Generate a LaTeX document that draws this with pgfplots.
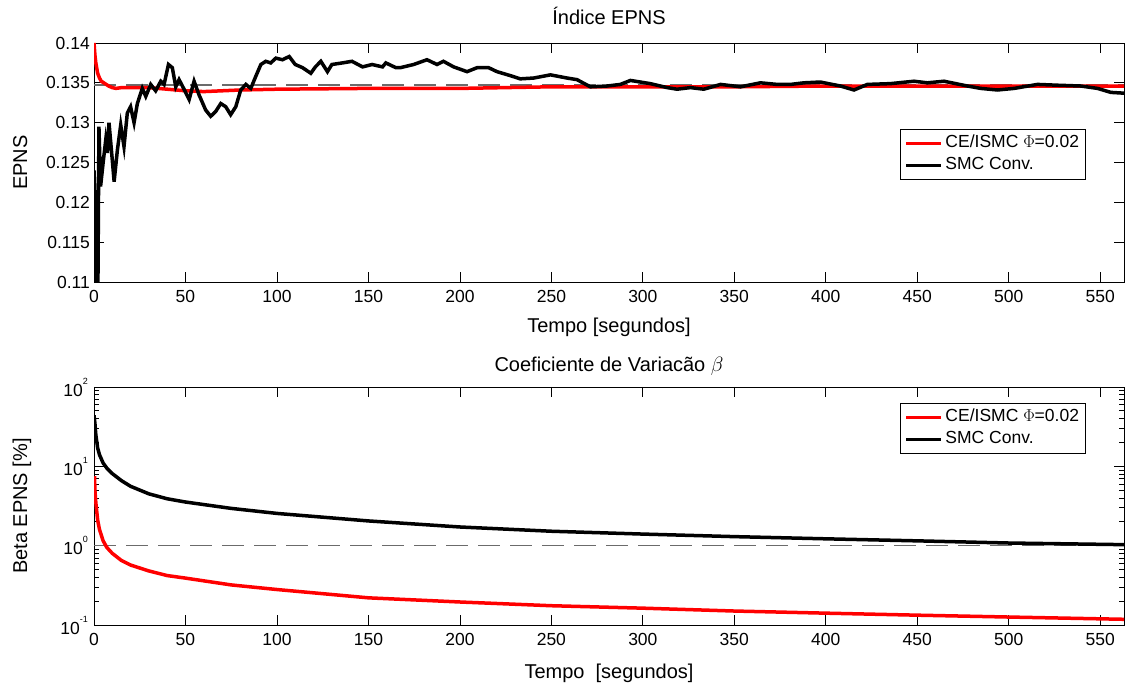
\documentclass[border=0pt]{standalone}
\usepackage{fontspec}
\setmainfont{Liberation Sans}
\usepackage{pgfplots}
\pgfplotsset{compat=1.18}
\newcommand{\tickfont}{\fontsize{17.5bp}{20bp}\selectfont}
\newcommand{\labfont}{\fontsize{20bp}{24bp}\selectfont}
\newcommand{\tenp}[1]{10\raisebox{12bp}{\fontsize{9bp}{10bp}\selectfont #1}}
\definecolor{mred}{rgb}{1,0,0}
\definecolor{dgray}{rgb}{0.42,0.42,0.42}
\pgfplotsset{
  myaxis/.style={
    scale only axis, width=1030bp,
    xmin=0, xmax=563,
    xtick={0,50,...,550},
    tick align=inside, tick pos=both,
    major tick length=10bp, minor tick length=5bp,
    every tick/.style={black, line width=0.8bp},
    axis line style={line width=0.8bp},
    tick label style={font=\tickfont},
    label style={font=\labfont},
    title style={font=\labfont, at={(0.5,1)}, anchor=base},
    /pgf/number format/assume math mode=true,
    xticklabel style={anchor=north, inner sep=0pt, yshift=-8bp},
    ylabel style={at={(axis description cs:-0.065,0.5)}, anchor=base, rotate=0},
    xlabel style={at={(axis description cs:0.5,0)}, anchor=base},
    legend cell align=left,
    legend image code/.code={\draw[##1] (0bp,0bp) -- (35bp,0bp);},
    legend style={font=\tickfont, draw=black, line width=0.8bp,
      inner xsep=4bp, inner ysep=3bp, row sep=0bp,
      nodes={inner sep=2.5bp, text height=13bp, text depth=4bp}},
  }
}
\begin{document}
\begin{tikzpicture}
\path[use as bounding box] (0,0) rectangle (1129bp,687bp);
% ---------------- top -----------------
\begin{axis}[myaxis, at={(94bp,405bp)}, anchor=south west, height=239bp,
  ymin=0.11, ymax=0.14,
  ytick={0.11,0.115,0.12,0.125,0.13,0.135,0.14},
  yticklabel style={anchor=east, inner sep=0pt, xshift=-4bp,
    /pgf/number format/.cd, fixed, precision=3},
  title={Índice EPNS}, title style={yshift=13bp},
  xlabel={Tempo [segundos]}, xlabel style={yshift=-51bp},
  ylabel={EPNS},
  legend style={at={(axis description cs:0.963,0.640)}, anchor=north east},
]
\addplot[forget plot, dgray, line width=1.5bp, dash pattern=on 22bp off 10bp]
  coordinates {(0,0.1347) (563,0.1347)};
\addplot[mred, line width=3.5bp] coordinates {
(0,0.1400) (0.5,0.1385) (1,0.1375) (2,0.1362) (3,0.1356) (4,0.1352) (6,0.1349)
(8,0.1346) (10,0.1344) (12,0.1343) (15,0.1344) (20,0.1344) (30,0.1344)
(40,0.1342) (50,0.1340) (60,0.1339) (70,0.1340) (80,0.1341) (100,0.1342)
(150,0.1343) (200,0.1343) (225,0.1344) (250,0.1345) (300,0.1345) (350,0.1345)
(400,0.1346) (450,0.1346) (500,0.1346) (563,0.1346)};
\addlegendentry{CE/ISMC \ensuremath{\Phi}=0.02}
\addplot[black, line width=3.5bp] coordinates {
(0,0.1240) (0.5,0.1210) (1,0.1080) (1.6,0.1160) (2.1,0.1080) (2.7,0.1295)
(3.6,0.1220) (5,0.1250) (6.4,0.1278) (7.3,0.1262) (8.2,0.1300) (10,0.1253)
(11,0.1226) (12.8,0.1266) (14.6,0.1297) (16.4,0.1270) (18.2,0.1312) (20,0.1320)
(21.9,0.1300) (23.7,0.1324) (26.4,0.1343) (28.3,0.1333) (31,0.1348) (33.7,0.1340)
(36.5,0.1352) (38.3,0.1348) (40.7,0.1373) (42.8,0.1369) (44.7,0.1345) (46.5,0.1354)
(49,0.1343) (52,0.1329) (54.7,0.1352) (57.4,0.1335) (61,0.1316) (63.8,0.1308)
(66.5,0.1314) (69.3,0.1324) (72,0.1320) (74.7,0.1310) (77.5,0.1320) (80.2,0.1341)
(83,0.1348) (85.7,0.1343) (88.4,0.1358) (91.2,0.1373) (93.9,0.1377) (96.6,0.1375)
(99.4,0.1381) (103,0.1379) (106.7,0.1383) (110,0.1373) (114,0.1369) (118.5,0.1362)
(121,0.1370) (124,0.1377) (127.6,0.1364) (130,0.1373) (135.8,0.1375) (141,0.1377)
(146.8,0.1370) (152,0.1373) (157.7,0.1370) (159.5,0.1375) (165,0.1369) (167.4,0.1369)
(174.7,0.1373) (182,0.1379) (187.5,0.1373) (191,0.1377) (196.6,0.1370) (203.9,0.1364)
(209.4,0.1369) (215.7,0.1369) (220.3,0.1364) (227.6,0.1359) (233,0.1355) (240.3,0.1356)
(249.5,0.1360) (258.6,0.1356) (264,0.1354) (271.3,0.1345) (280.5,0.1346) (287.7,0.1348)
(293.2,0.1353) (304,0.1349) (313.3,0.1344) (318.7,0.1342) (326,0.1344) (333.3,0.1342)
(342.5,0.1348) (353.4,0.1345) (364.3,0.1350) (373.5,0.1348) (380.7,0.1348) (388,0.1350)
(397,0.1351) (408,0.1346) (415.4,0.1341) (422.7,0.1348) (435.4,0.1349) (448.2,0.1352)
(455.5,0.1350) (464.6,0.1352) (477.4,0.1346) (484.7,0.1343) (493.8,0.1341) (502.9,0.1343)
(515.7,0.1348) (526.6,0.1347) (539.4,0.1346) (548.5,0.1343) (555.8,0.1338) (563,0.1337)};
\addlegendentry{SMC Conv.}
\end{axis}
% ---------------- bottom -----------------
\begin{axis}[myaxis, at={(94bp,62bp)}, anchor=south west, height=238bp,
  ymode=log, ymin=0.1, ymax=100,
  ytick={0.1,1,10,100},
  yticklabels={\tenp{-1},\tenp{0},\tenp{1},\tenp{2}},
  minor ytick={0.2,0.3,0.4,0.5,0.6,0.7,0.8,0.9,2,3,4,5,6,7,8,9,20,30,40,50,60,70,80,90},
  yticklabel style={anchor=east, inner sep=0pt, xshift=-6bp},
  title={Coeficiente de Variacão $\beta$}, title style={yshift=10bp},
  xlabel={Tempo\ \ [segundos]}, xlabel style={yshift=-53bp},
  ylabel={Beta EPNS [\%]},
  legend style={at={(axis description cs:0.963,0.933)}, anchor=north east},
]
\addplot[forget plot, dgray, line width=1.5bp, dash pattern=on 22bp off 10bp]
  coordinates {(0,1) (563,1)};
\addplot[mred, line width=3.5bp] coordinates {
(0.3,7.5) (0.5,5) (1,3.5) (2,2.1) (3,1.6) (5,1.15) (7,0.95) (10,0.8) (15,0.65)
(20,0.57) (30,0.48) (40,0.42) (50,0.39) (75,0.32) (100,0.28) (150,0.22) (200,0.195)
(250,0.175) (300,0.163) (350,0.15) (400,0.141) (450,0.133) (500,0.126) (563,0.118)};
\addlegendentry{CE/ISMC \ensuremath{\Phi}=0.02}
\addplot[black, line width=3.5bp] coordinates {
(0,44) (0.5,35) (1,25) (2,17) (3,14) (5,11) (7,9.5) (10,8.1) (15,6.6) (20,5.6)
(30,4.5) (40,3.9) (50,3.55) (75,2.95) (100,2.55) (150,2.05) (200,1.72) (250,1.52)
(300,1.4) (350,1.3) (400,1.22) (450,1.15) (500,1.08) (563,1.03)};
\addlegendentry{SMC Conv.}
\end{axis}
\end{tikzpicture}
\end{document}
